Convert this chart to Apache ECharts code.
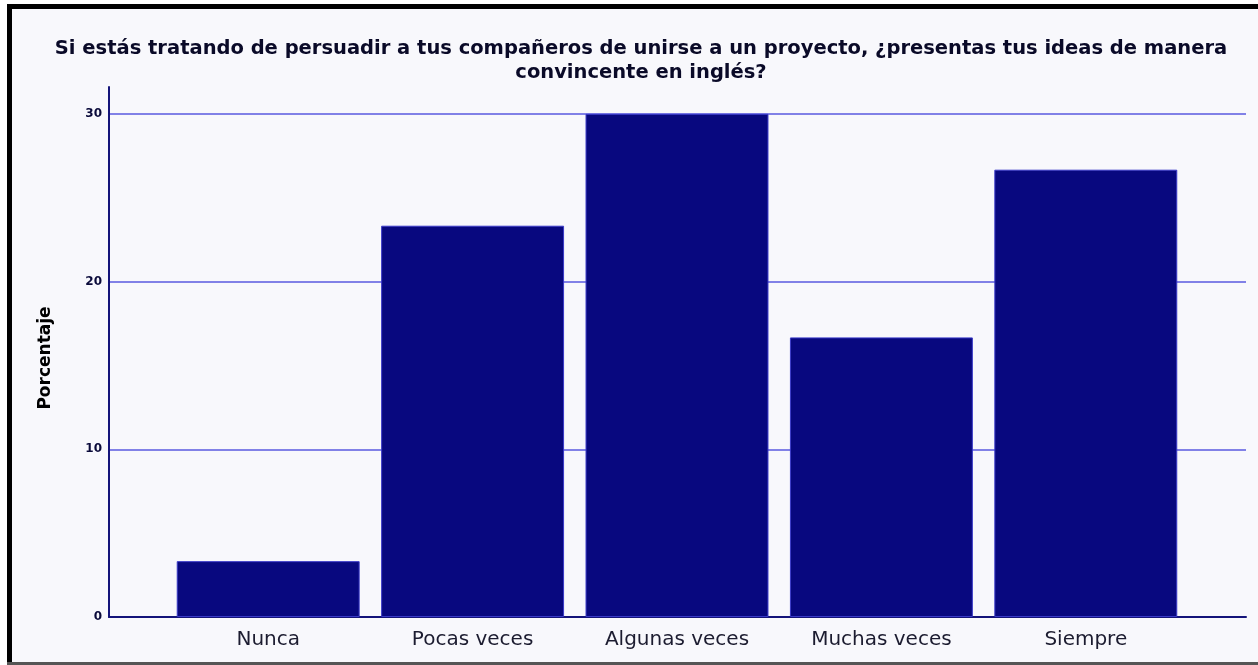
<!DOCTYPE html>
<html>
<head>
<meta charset="utf-8">
<script src="https://cdn.jsdelivr.net/npm/echarts@6/dist/echarts.min.js"></script>
<style>
  html, body { margin: 0; padding: 0; background: #fff; }
  #chart { position: absolute; left: 0; top: 0; width: 1258px; height: 665px; background: #f8f8fc; }
  .edge { position: absolute; background: #000; }
</style>
</head>
<body>
<div id="chart"></div>
<div class="edge" style="left:0;top:0;width:7px;height:665px;background:#fff"></div>
<div class="edge" style="left:0;top:0;width:1258px;height:4px;background:#fff"></div>
<div class="edge" style="left:7px;top:4px;width:5px;height:661px"></div>
<div class="edge" style="left:7px;top:4px;width:1251px;height:5px"></div>
<div class="edge" style="left:7px;top:662px;width:1251px;height:3px;background:#555"></div>
<script>
// categorías y porcentajes
const categorias = ['Nunca', 'Pocas veces', 'Algunas veces', 'Muchas veces', 'Siempre'];
const porcentajes = [3.33, 23.33, 30, 16.67, 26.67];
const tituloTexto = 'Si estás tratando de persuadir a tus compañeros de unirse a un proyecto, ¿presentas tus ideas de manera\nconvincente en inglés?';

const fuente = 'DejaVu Sans, Verdana, sans-serif';

let myChart = echarts.init(document.getElementById('chart'));
myChart.setOption({
    backgroundColor: '#f8f8fc',
    animation: false,
    title: {
        text: tituloTexto,
        left: 636,
        top: 32,
        textAlign: 'center',
        textStyle: {
            fontFamily: fuente,
            fontSize: 19.5,
            fontWeight: 'bold',
            color: '#0a0a28',
            lineHeight: 24
        }
    },
    grid: [
        { left: 109, right: 12, top: 87, bottom: 48 },
        { left: 166, right: 70, top: 87, bottom: 48 }
    ],
    xAxis: [
        {
            gridIndex: 0,
            type: 'value',
            min: 0,
            max: 1,
            axisLine: { show: true, lineStyle: { color: '#14147a', width: 2 } },
            axisTick: { show: false },
            axisLabel: { show: false },
            splitLine: { show: false }
        },
        {
            gridIndex: 1,
            type: 'category',
            data: categorias,
            axisLine: { show: false },
            axisTick: { show: false },
            axisLabel: {
                margin: 13,
                fontFamily: fuente,
                fontSize: 20,
                color: '#1c1c30'
            }
        }
    ],
    yAxis: [
        {
            gridIndex: 0,
            type: 'value',
            min: 0,
            max: 31.6,
            interval: 10,
            name: 'Porcentaje',
            nameLocation: 'middle',
            nameGap: 55,
            nameTextStyle: {
                fontFamily: fuente,
                fontSize: 17,
                fontWeight: 'bold',
                color: '#000',
                padding: [0, 12, 0, 0]
            },
            axisLine: { show: true, lineStyle: { color: '#14147a', width: 2 } },
            axisTick: { show: false },
            axisLabel: {
                margin: 7,
                fontFamily: fuente,
                fontSize: 12,
                fontWeight: 'bold',
                color: '#0a0a3a',
                showMaxLabel: false
            },
            splitLine: { show: true, showMaxLine: false, lineStyle: { color: '#5a5ae0', width: 1.5 } }
        },
        {
            gridIndex: 1,
            type: 'value',
            min: 0,
            max: 31.6,
            show: false,
            splitLine: { show: false }
        }
    ],
    series: [
        {
            type: 'bar',
            xAxisIndex: 1,
            yAxisIndex: 1,
            data: porcentajes,
            barCategoryGap: '10.5%',
            itemStyle: { color: '#08087f', borderColor: '#3a3ac8', borderWidth: 1 }
        }
    ]
});
</script>
</body>
</html>
